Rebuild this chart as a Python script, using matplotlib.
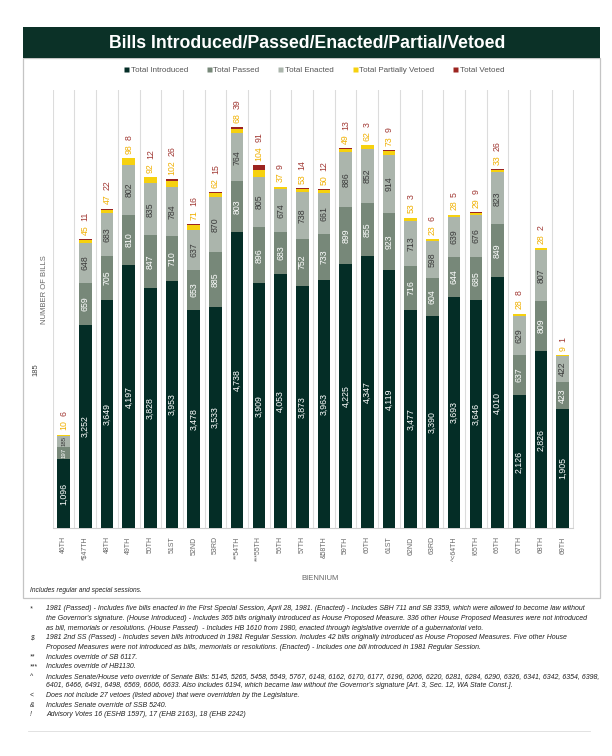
#!/usr/bin/env python3
"""
plot.py
Bills Introduced/Passed/Enacted/Partial/Vetoed by biennium (46th - 69th).
Stacked bars with rotated value labels, footnotes under the chart.
"""

import matplotlib
matplotlib.use("Agg")
import matplotlib.pyplot as plt
from matplotlib.patches import Rectangle
from matplotlib.lines import Line2D

# ─── Data ───────────────────────────────────────────────────
BIENNIUMS = ["46TH", "*$47TH", "48TH", "49TH", "50TH", "51ST", "52ND", "53RD",
             "**54TH", "***55TH", "56TH", "57TH", "&58TH", "59TH", "60TH", "61ST",
             "62ND", "63RD", "^<64TH", "!65TH", "66TH", "67TH", "68TH", "69TH"]

INTRODUCED = [1096, 3252, 3649, 4197, 3828, 3953, 3478, 3533, 4738, 3909, 4053, 3873,
              3963, 4225, 4347, 4119, 3477, 3390, 3693, 3646, 4010, 2126, 2826, 1905]
PASSED     = [197, 659, 705, 810, 847, 710, 653, 885, 803, 896, 683, 752,
              733, 899, 855, 923, 716, 604, 644, 685, 849, 637, 809, 423]
ENACTED    = [185, 648, 683, 802, 835, 784, 637, 870, 764, 805, 674, 738,
              661, 886, 852, 914, 713, 598, 639, 676, 823, 629, 807, 422]
PARTIAL    = [10, 45, 47, 98, 92, 102, 71, 62, 68, 104, 37, 53,
              50, 49, 62, 73, 53, 23, 28, 29, 33, 28, 28, 9]
VETOED     = [6, 11, 22, 8, 12, 26, 16, 15, 39, 91, 9, 14,
              12, 13, 3, 9, 3, 6, 5, 9, 26, 8, 2, 1]

SERIES_NAMES = ["Total Introduced", "Total Passed", "Total Enacted",
                "Total Partially Vetoed", "Total Vetoed"]

FOOTNOTES = [
    ("*", "1981 (Passed) - Includes five bills enacted in the First Special Session, April 28, 1981. (Enacted) - Includes SBH 711 and SB 3359, which were allowed to become law without"),
    ("", "the Governor's signature. (House Introduced) - Includes 365 bills originally introduced as House Proposed Measure. 336 other House Proposed Measures were not introduced"),
    ("", "as bill, memorials or resolutions. (House Passed)  - Includes HB 1610 from 1980, enacted through legislative override of a gubernatorial veto."),
    ("$", "1981 2nd SS (Passed) - Includes seven bills introduced in 1981 Regular Session. Includes 42 bills originally introduced as House Proposed Measures. Five other House"),
    ("", "Proposed Measures were not introduced as bills, memorials or resolutions. (Enacted) - Includes one bill introduced in 1981 Regular Session."),
    ("**", "Includes override of SB 6117."),
    ("***", "Includes override of HB1130."),
    ("^", "Includes Senate/House veto override of Senate Bills: 5145, 5265, 5458, 5549, 5767, 6148, 6162, 6170, 6177, 6196, 6206, 6220, 6281, 6284, 6290, 6326, 6341, 6342, 6354, 6398,"),
    ("", "6401, 6466, 6491, 6498, 6569, 6606, 6633. Also includes 6194, which became law without the Governor's signature [Art. 3, Sec. 12, WA State Const.]."),
    ("<", "Does not include 27 vetoes (listed above) that were overridden by the Legislature."),
    ("&", "Includes Senate override of SSB 5240."),
    ("!", "Advisory Votes 16 (ESHB 1597), 17 (EHB 2163), 18 (EHB 2242)"),
]

# ─── Style ──────────────────────────────────────────────────
C_INTRO   = "#042d26"
C_PASSED  = "#778879"
C_ENACTED = "#abb5ac"
C_PARTIAL = "#f6d10f"
C_VETOED  = "#9c2420"
C_BAND    = "#0b3127"
C_GRID    = "#dcdcdc"
LBL_PARTIAL = "#f0b000"
LBL_VETOED  = "#a23a35"

W, H = 612, 756
FONT = "Liberation Sans"


def px(x, y):
    """pixel (from top-left) -> figure fraction"""
    return x / W, 1 - y / H


def fmt(v):
    return f"{v:,}"


def main():
    plt.rcParams["font.family"] = [FONT, "DejaVu Sans"]
    fig = plt.figure(figsize=(W / 100, H / 100), dpi=100)

    # ── Title band + panel frame (behind the axes) ──────────
    fig.patches.append(Rectangle(px(23, 598), 577 / W, 540 / H, transform=fig.transFigure,
                                 facecolor="white", edgecolor="#c4c4c4", linewidth=0.9,
                                 zorder=-10))
    fig.patches.append(Rectangle(px(23, 58), 577 / W, 31 / H, transform=fig.transFigure,
                                 facecolor=C_BAND, edgecolor="none", zorder=-9))
    fig.text(*px(307, 43), "Bills Introduced/Passed/Enacted/Partial/Vetoed",
             color="white", fontsize=12.7, fontweight="bold", ha="center", va="center")

    # ── Axes ────────────────────────────────────────────────
    left, right, top, bottom = 52.7, 573.5, 90, 528
    ax = fig.add_axes([left / W, 1 - bottom / H, (right - left) / W, (bottom - top) / H])
    n = len(BIENNIUMS)
    x = list(range(n))
    bw = 0.58

    b1 = INTRODUCED
    b2 = [a + b for a, b in zip(b1, PASSED)]
    b3 = [a + b for a, b in zip(b2, ENACTED)]
    b4 = [a + b for a, b in zip(b3, PARTIAL)]
    tops = [a + b for a, b in zip(b4, VETOED)]

    ax.bar(x, INTRODUCED, bw, color=C_INTRO, zorder=3)
    ax.bar(x, PASSED, bw, bottom=b1, color=C_PASSED, zorder=3)
    ax.bar(x, ENACTED, bw, bottom=b2, color=C_ENACTED, zorder=3)
    ax.bar(x, PARTIAL, bw, bottom=b3, color=C_PARTIAL, zorder=3)
    ax.bar(x, VETOED, bw, bottom=b4, color=C_VETOED, zorder=3)

    # value labels inside segments
    lfs = 6.3
    for i in range(n):
        small = PASSED[i] < 300
        fs = 4.3 if small else lfs
        ax.text(i, INTRODUCED[i] / 2, fmt(INTRODUCED[i]), rotation=90, ha="center",
                va="center", color="white", fontsize=lfs, zorder=4)
        ax.text(i, b1[i] + PASSED[i] / 2, fmt(PASSED[i]), rotation=90, ha="center",
                va="center", color="white", fontsize=fs, zorder=4)
        ax.text(i, b2[i] + ENACTED[i] / 2, fmt(ENACTED[i]), rotation=90, ha="center",
                va="center", color="#3a3a3a", fontsize=fs, zorder=4)
        # partial / vetoed above the bar
        ps = str(PARTIAL[i])
        ax.annotate(ps, (i, tops[i]), xytext=(0, 3), textcoords="offset points",
                    rotation=90, ha="center", va="bottom", color=LBL_PARTIAL,
                    fontsize=lfs, zorder=4)
        ax.annotate(str(VETOED[i]), (i, tops[i]),
                    xytext=(0, 3 + len(ps) * 3.5 + 3), textcoords="offset points",
                    rotation=90, ha="center", va="bottom", color=LBL_VETOED,
                    fontsize=lfs, zorder=4)

    ax.set_xlim(-0.5, n - 0.5)
    ax.set_ylim(0, 7000)
    ax.set_yticks([])
    ax.set_xticks(x)
    ax.set_xticklabels(BIENNIUMS, rotation=90, fontsize=5, color="#666666")
    ax.tick_params(axis="x", length=0, pad=6)
    ax.set_xticks([k - 0.5 for k in range(n + 1)], minor=True)
    ax.tick_params(axis="x", which="minor", length=0)
    ax.grid(True, axis="x", which="minor", color=C_GRID, linewidth=0.8, zorder=0)
    for side in ["top", "right", "left"]:
        ax.spines[side].set_visible(False)
    ax.spines["bottom"].set_color("#cfcfcf")
    ax.set_facecolor("none")

    fig.text(*px(45, 290), "NUMBER OF BILLS", rotation=90, ha="center", va="center",
             fontsize=5.5, color="#666666")
    fig.text(*px(36, 370), "185", rotation=90, ha="center", va="center",
             fontsize=5.5, color="#444444")
    fig.text(*px(320, 579), "BIENNIUM", ha="center", va="center",
             fontsize=5.5, color="#666666")
    fig.text(*px(30, 591), "Includes regular and special sessions.", ha="left",
             va="center", fontsize=4.8, style="italic", color="#222222")

    # ── Legend ──────────────────────────────────────────────
    colors = [C_INTRO, C_PASSED, C_ENACTED, C_PARTIAL, C_VETOED]
    handles = [Line2D([], [], marker="s", linestyle="none", markersize=3.6,
                      markerfacecolor=c, markeredgecolor="none") for c in colors]
    fig.legend(handles, SERIES_NAMES, loc="center", bbox_to_anchor=px(314, 70),
               ncol=5, frameon=False, fontsize=5.8, handletextpad=0.25,
               handlelength=0.6, columnspacing=2.3, labelcolor="#555555")

    # ── Footnotes ───────────────────────────────────────────
    y = 609
    for sym, line in FOOTNOTES:
        if sym:
            fig.text(*px(30, y), sym, ha="left", va="center", fontsize=4.8,
                     style="italic", color="#222222")
        fig.text(*px(46, y), line, ha="left", va="center", fontsize=5.0,
                 style="italic", color="#222222")
        y += 9.6
    fig.add_artist(Line2D([28 / W, 590 / W], [1 - 731 / H] * 2, color="#dddddd",
                          linewidth=0.6, transform=fig.transFigure))

    fig.savefig("out.png", dpi=100)
    plt.close(fig)


if __name__ == "__main__":
    main()
